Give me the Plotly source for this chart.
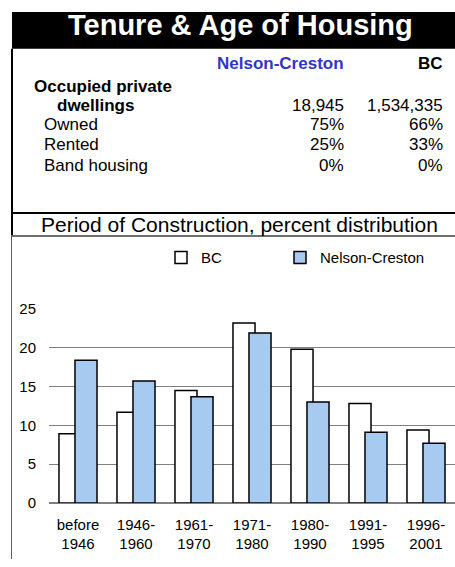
import plotly.graph_objects as go

# ---------------- data ----------------
periods = ["before<br>1946", "1946-<br>1960", "1961-<br>1970", "1971-<br>1980",
           "1980-<br>1990", "1991-<br>1995", "1996-<br>2001"]
bc_pct = [8.9, 11.7, 14.5, 23.2, 19.8, 12.8, 9.4]
nelson_pct = [18.4, 15.7, 13.7, 21.9, 13.0, 9.1, 7.7]
y_ticks = [0, 5, 10, 15, 20, 25]

regions = ["Nelson-Creston", "BC"]
dwellings = ["18,945", "1,534,335"]
tenure_rows = ["Owned", "Rented", "Band housing"]
tenure_nelson = ["75%", "25%", "0%"]
tenure_bc = ["66%", "33%", "0%"]

title_text = "Tenure & Age of Housing"
chart_title = "Period of Construction, percent distribution"

# ---------------- layout helpers ----------------
W, H = 455, 567
FONT = "Arial, Liberation Sans, sans-serif"


def px(x):
    return x / W


def py(y):
    return 1 - y / H


fig = go.Figure()
fig.add_trace(go.Bar(
    x=periods, y=bc_pct, name="BC", legend="legend",
    marker=dict(color="white", line=dict(color="black", width=1.5)),
    width=0.38, offset=-0.328,
))
fig.add_trace(go.Bar(
    x=periods, y=nelson_pct, name="Nelson-Creston", legend="legend2",
    marker=dict(color="#a6caf0", line=dict(color="black", width=1.5)),
    width=0.38, offset=-0.052,
))

shapes = [
    dict(type="rect", xref="paper", yref="paper", x0=px(12), x1=px(455), y0=py(42), y1=py(4),
         fillcolor="black", line=dict(width=0)),
    dict(type="line", xref="paper", yref="paper", x0=px(12), x1=px(12), y0=py(234), y1=py(42),
         line=dict(color="black", width=2)),
    dict(type="line", xref="paper", yref="paper", x0=px(12), x1=px(455), y0=py(211), y1=py(211),
         line=dict(color="black", width=2)),
    dict(type="line", xref="paper", yref="paper", x0=px(12), x1=px(455), y0=py(234.5), y1=py(234.5),
         line=dict(color="#404040", width=1.5)),
    dict(type="line", xref="paper", yref="paper", x0=px(11.5), x1=px(11.5), y0=py(567), y1=py(234),
         line=dict(color="#606060", width=1)),
]

annotations = []


def ann(text, x, y, size=17, color="black", bold=False, xanchor="left"):
    t = f"<b>{text}</b>" if bold else text
    annotations.append(dict(text=t, x=px(x), y=py(y), xref="paper", yref="paper",
                            xanchor=xanchor, yanchor="middle", showarrow=False,
                            font=dict(family=FONT, size=size, color=color)))


ann(title_text, 240, 17, size=29, color="white", bold=True, xanchor="center")
ann(regions[0], 346, 57, color="#3333CC", bold=True, xanchor="right")
ann(regions[1], 445, 57, bold=True, xanchor="right")
ann("Occupied private", 32, 81, bold=True)
ann("dwellings", 55, 100, bold=True)
ann(dwellings[0], 346, 100, xanchor="right")
ann(dwellings[1], 445, 100, xanchor="right")
for i, row in enumerate(tenure_rows):
    yy = [120, 140, 162][i]
    ann(row, 42, yy)
    ann(tenure_nelson[i], 346, yy, xanchor="right")
    ann(tenure_bc[i], 445, yy, xanchor="right")
ann(chart_title, 239, 223, size=21, xanchor="center")

leg_common = dict(orientation="h", yanchor="middle", xanchor="left",
                  font=dict(family=FONT, size=15, color="black"),
                  itemwidth=30, bgcolor="rgba(0,0,0,0)")

fig.update_layout(
    width=W, height=H,
    margin=dict(l=0, r=0, t=0, b=0),
    paper_bgcolor="white", plot_bgcolor="white",
    barmode="overlay",
    font=dict(family=FONT, size=15, color="black"),
    showlegend=True,
    legend=dict(x=px(161), y=py(257), **leg_common),
    legend2=dict(x=px(280), y=py(257), **leg_common),
    shapes=shapes,
    annotations=annotations,
    xaxis=dict(domain=[px(49), 1], showgrid=False, showline=False, ticks="",
               tickfont=dict(family=FONT, size=15), ticklabelstandoff=11,
               range=[-0.5, 6.5]),
    yaxis=dict(domain=[py(509.3), py(309.3)], range=[0, 25.05], tickvals=y_ticks,
               showgrid=True, gridcolor="#808080", gridwidth=1,
               zeroline=True, zerolinecolor="#808080", zerolinewidth=1.5,
               showline=False, ticks="", ticklabelstandoff=12,
               tickfont=dict(family=FONT, size=15)),
)

fig.write_html("out.html", config={"displayModeBar": False},
               post_script="document.body.style.margin='0px';")
